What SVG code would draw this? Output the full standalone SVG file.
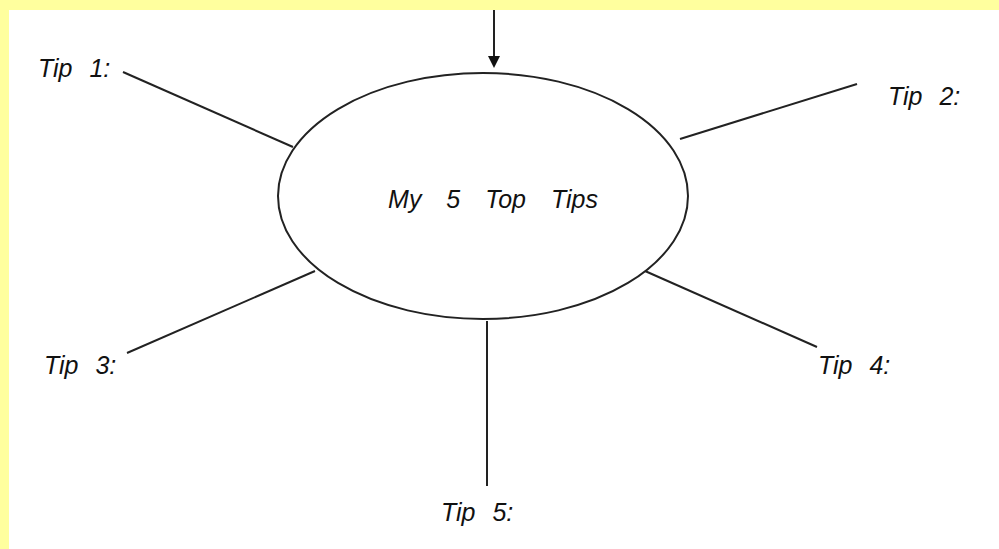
<svg xmlns="http://www.w3.org/2000/svg" width="999" height="549" viewBox="0 0 999 549">
<defs>
<style>
.lbl{font-family:"Liberation Sans",Arial,sans-serif;font-style:italic;font-size:25px;fill:#111;word-spacing:10px}
.title{word-spacing:18px}
.ln{stroke:#222;stroke-width:2;fill:none}
</style>
<marker id="ah" markerWidth="12" markerHeight="12" refX="10" refY="6" orient="auto" markerUnits="userSpaceOnUse">
<path d="M0,0 L12,6 L0,12 Z" fill="#111"/>
</marker>
</defs>
<rect x="0" y="0" width="999" height="549" fill="#FFFF9E"/>
<rect x="9" y="10" width="990" height="539" fill="#fff"/>
<g id="connectors">
<line class="ln" x1="494" y1="10" x2="494" y2="66" marker-end="url(#ah)"/>
<line class="ln" x1="123" y1="72" x2="293" y2="147"/>
<line class="ln" x1="680" y1="139" x2="857" y2="84"/>
<line class="ln" x1="127" y1="353" x2="315" y2="271"/>
<line class="ln" x1="645" y1="271" x2="817" y2="347"/>
<line class="ln" x1="487" y1="321" x2="487" y2="486"/>
</g>
<g id="center">
<ellipse cx="483" cy="196" rx="205" ry="123" class="ln"/>
<text class="lbl title" x="493" y="208" text-anchor="middle">My 5 Top Tips</text>
</g>
<g id="tip1"><text class="lbl" x="38" y="77">Tip 1:</text></g>
<g id="tip2"><text class="lbl" x="888" y="105">Tip 2:</text></g>
<g id="tip3"><text class="lbl" x="44" y="374">Tip 3:</text></g>
<g id="tip4"><text class="lbl" x="818" y="374">Tip 4:</text></g>
<g id="tip5"><text class="lbl" x="441" y="521">Tip 5:</text></g>
</svg>
